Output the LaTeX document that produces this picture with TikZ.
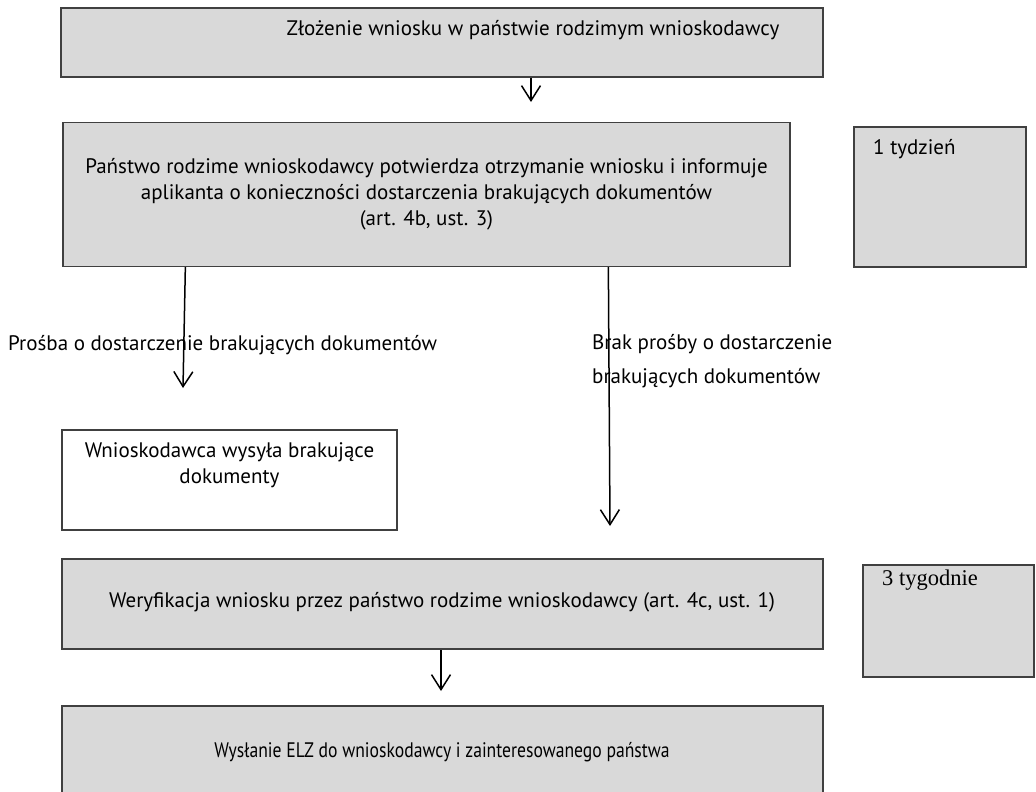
\documentclass[tikz,border=0pt]{standalone}
\usepackage{fontspec}
\setmainfont{PT Sans}
\newfontfamily\cambriaish{Liberation Serif}
\newfontfamily\narrowsans[FakeStretch=0.84]{PT Sans}
\usepackage{xcolor}
\usepackage{tikz}
\usetikzlibrary{arrows.meta, positioning, calc}
\definecolor{BoxGrey}{RGB}{217, 217, 217}
\definecolor{BoxEdge}{RGB}{64, 64, 64}

\tikzset{
  greybox/.style={draw=BoxEdge, fill=BoxGrey, line width=1.3pt, inner sep=0pt},
  whitebox/.style={draw=BoxEdge, fill=white, line width=1.3pt, inner sep=0pt},
  boxtext/.style={align=center, inner sep=0pt, font=\fontsize{21}{26}\selectfont},
  flowarrow/.style={-{Straight Barb[length=15pt, width=19pt, line width=1.5pt]}, line width=1.5pt, black}
}

\begin{document}
\begin{tikzpicture}[x=1pt, y=-1pt]
  \useasboundingbox (0,0) rectangle (1036,792);

  % boxes
  \node[greybox, minimum width=762pt, minimum height=69pt] (zlozenie) at (442,42.5) {};
  \node[greybox, minimum width=727pt, minimum height=144pt] (potwierdza) at (426.5,194.5) {};
  \node[greybox, minimum width=172pt, minimum height=140pt] (tydzien) at (940,197) {};
  \node[whitebox, minimum width=335pt, minimum height=100pt] (wysyla) at (229.5,480) {};
  \node[greybox, line width=2pt, minimum width=761pt, minimum height=90pt] (weryfikacja) at (442.5,604) {};
  \node[greybox, line width=2pt, minimum width=171pt, minimum height=112pt] (tygodnie) at (948.5,621) {};
  \node[greybox, minimum width=761pt, minimum height=100pt] (elz) at (442.5,756) {};

  % texts
  \node[boxtext] (t-zlozenie) at (533,30) {Złożenie wniosku w państwie rodzimym wnioskodawcy};
  \node[boxtext] (t-potwierdza) at (potwierdza.center) {Państwo rodzime wnioskodawcy potwierdza otrzymanie wniosku i informuje\\
    aplikanta o konieczności dostarczenia brakujących dokumentów\\
    (art. 4b, ust. 3)};
  \node[boxtext, anchor=west] (t-tydzien) at (873,149) {1 tydzień};
  \node[boxtext, anchor=west] (t-prosba) at (8,345) {Prośba o dostarczenie brakujących dokumentów};
  \node[boxtext, anchor=west, align=left, font=\fontsize{21}{34}\selectfont] (t-brak) at (592,361) {Brak prośby o dostarczenie\\ brakujących dokumentów};
  \node[boxtext] (t-wysyla) at (229.5,465) {Wnioskodawca wysyła brakujące\\ dokumenty};
  \node[boxtext] (t-weryfikacja) at (442,602) {Weryfikacja wniosku przez państwo rodzime wnioskodawcy (art. 4c, ust. 1)};
  \node[boxtext, anchor=west, font=\cambriaish\fontsize{22.5}{26}\selectfont] (t-tygodnie) at (882,580) {3 tygodnie};
  \node[boxtext, font=\narrowsans\fontsize{21}{26}\selectfont] (t-elz) at (442,752) {Wysłanie ELZ do wnioskodawcy i zainteresowanego państwa};

  % arrow ends
  \coordinate (e1) at (531,102);
  \coordinate (e2) at (183,388);
  \coordinate (e3) at (610,526);
  \coordinate (e4) at (441,691);

  % connectors
  \draw[flowarrow] (zlozenie.south -| e1) -- (e1);
  \draw[flowarrow] ($(potwierdza.south west)+(123,0)$) -- (e2);
  \draw[flowarrow] ($(potwierdza.south west)+(546,0)$) -- (e3);
  \draw[flowarrow] (weryfikacja.south -| e4) -- (e4);
\end{tikzpicture}
\end{document}
